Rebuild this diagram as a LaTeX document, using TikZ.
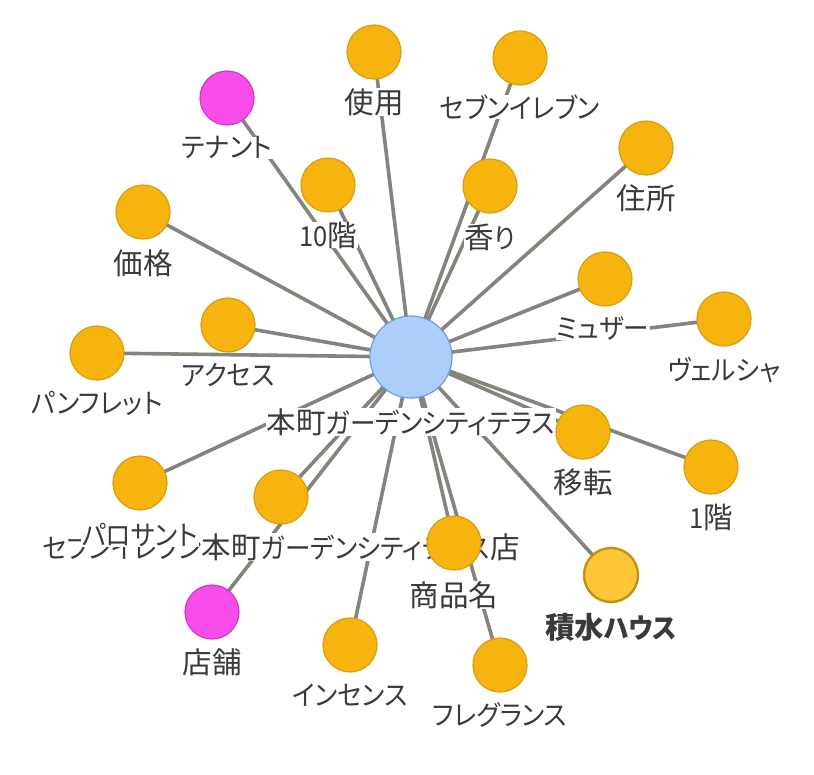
\documentclass[tikz,border=0pt]{standalone}
\usepackage{fontspec}
\setmainfont{Noto Sans CJK JP}[RawFeature=+palt]
\newfontfamily\kanafont{Noto Sans CJK JP}[RawFeature=+palt, FakeStretch=0.93]
\definecolor{kwfill}{RGB}{247,180,14}
\definecolor{kwdraw}{RGB}{214,158,16}
\definecolor{hubfill}{RGB}{173,207,251}
\definecolor{hubdraw}{RGB}{110,155,224}
\definecolor{pinkfill}{RGB}{248,76,235}
\definecolor{pinkdraw}{RGB}{205,58,196}
\definecolor{sekfill}{RGB}{255,198,58}
\definecolor{sekdraw}{RGB}{196,146,12}
\definecolor{edgegray}{RGB}{132,132,124}
\definecolor{txt}{RGB}{58,58,58}
\pgfdeclarelayer{bg}
\pgfsetlayers{bg,main}
\newcommand{\K}[1]{{\normalfont\fontsize{29.5}{30}\selectfont #1}}
\newcommand{\KB}[1]{{\normalfont\bfseries\fontsize{29.5}{30}\selectfont #1}}
\tikzset{
  link/.style={draw=edgegray, line width=3.6pt},
  kw/.style={circle, minimum size=54pt, inner sep=0pt, fill=kwfill, draw=kwdraw, line width=1.2pt},
  pinkn/.style={circle, minimum size=54pt, inner sep=0pt, fill=pinkfill, draw=pinkdraw, line width=1.2pt},
  sek/.style={circle, minimum size=54pt, inner sep=0pt, fill=sekfill, draw=sekdraw, line width=2.4pt},
  hub/.style={circle, minimum size=82pt, inner sep=0pt, fill=hubfill, draw=hubdraw, line width=1.2pt},
  lbl/.style={text=txt, fill=white, inner xsep=1pt, inner ysep=0pt, font=\kanafont\fontsize{27.5}{30}\selectfont}
}
\begin{document}
\begin{tikzpicture}[x=1pt,y=-1pt]
\useasboundingbox (0,0) rectangle (814,774);
% hub
\node[hub] (hub) at (411,357) {};
\node[lbl] (lhub) at (411,422) {\K{本町}ガーデンシティテラス};
% long label node first
\node[kw] (store7) at (281,497) {};
\node[lbl] (lstore7) at (281,547) {セブンイレブン\K{本町}ガーデンシティテラス\K{店}};
\node[kw] (shiyo) at (374,52) {};
\node[lbl] (lshiyo) at (374,102) {\K{使用}};
\node[kw] (seven) at (520,58) {};
\node[lbl] (lseven) at (520,107) {セブンイレブン};
\node[pinkn] (tenant) at (227,98) {};
\node[lbl] (ltenant) at (227,148) {テナント};
\node[kw] (jusho) at (646,148) {};
\node[lbl] (ljusho) at (646,198) {\K{住所}};
\node[kw] (f10) at (328,185) {};
\node[lbl] (lf10) at (328,235) {10\K{階}};
\node[kw] (kaori) at (490,186) {};
\node[lbl] (lkaori) at (490,237) {\K{香}り};
\node[kw] (kakaku) at (143,212) {};
\node[lbl] (lkakaku) at (143,263) {\K{価格}};
\node[kw] (myuza) at (605,279) {};
\node[lbl] (lmyuza) at (603,328) {ミュザー};
\node[kw] (access) at (228,325) {};
\node[lbl] (laccess) at (228,375) {アクセス};
\node[kw] (verusha) at (724,319) {};
\node[lbl] (lverusha) at (724,370) {ヴェルシャ};
\node[kw] (pamph) at (97,353) {};
\node[lbl] (lpamph) at (97,403) {パンフレット};
\node[kw] (iten) at (583,432) {};
\node[lbl] (liten) at (583,482) {\K{移転}};
\node[kw] (f1) at (711,467) {};
\node[lbl] (lf1) at (711,517) {1\K{階}};
\node[kw] (palo) at (140,483) {};
\node[lbl] (lpalo) at (140,535) {パロサント};
\node[kw] (shohin) at (454,543) {};
\node[lbl] (lshohin) at (454,595) {\K{商品名}};
\node[sek] (sekisui) at (611,575) {};
\node[lbl, font=\kanafont\bfseries\fontsize{27.5}{30}\selectfont] (lsekisui) at (611,627) {\KB{積水}ハウス};
\node[pinkn] (tenpo) at (212,612) {};
\node[lbl] (ltenpo) at (212,662) {\K{店舗}};
\node[kw] (incense) at (350,645) {};
\node[lbl] (lincense) at (350,695) {インセンス};
\node[kw] (fragrance) at (500,665) {};
\node[lbl] (lfragrance) at (500,715) {フレグランス};
\begin{pgfonlayer}{bg}
\fill[white] (0,0) rectangle (814,774);
\foreach \n in {store7,shiyo,seven,tenant,jusho,f10,kaori,kakaku,myuza,access,verusha,pamph,iten,f1,palo,shohin,sekisui,tenpo,incense,fragrance}
  \draw[link] (hub.center) -- (\n.center);
\end{pgfonlayer}
\end{tikzpicture}
\end{document}
